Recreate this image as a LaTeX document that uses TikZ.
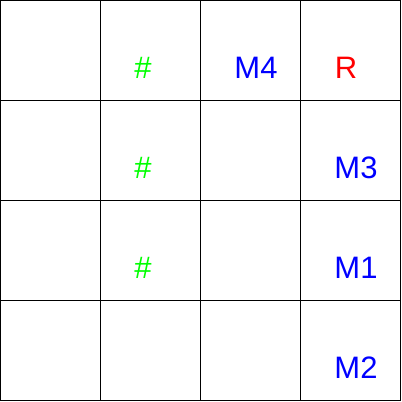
\documentclass[tikz,border=0pt]{standalone}
\usepackage{fontspec}
\setmainfont{Liberation Sans}
\definecolor{hashgreen}{RGB}{0,255,0}
\definecolor{mblue}{RGB}{0,0,255}
\definecolor{rred}{RGB}{255,0,0}
\begin{document}
\begin{tikzpicture}[x=1bp,y=-1bp,
  gridline/.style={draw=black,line width=1bp},
  lbl/.style={anchor=base,inner sep=0pt,font=\fontsize{31bp}{36bp}\selectfont}]
\useasboundingbox (0,0) rectangle (402,402);
\foreach \i in {0,1,2,3}{
  \foreach \j in {0,1,2,3}{
    \draw[gridline] (0.5+100*\i,0.5+100*\j) rectangle (100.5+100*\i,100.5+100*\j);
  }
}
\node[lbl,text=hashgreen] (h1) at (143,78.5) {\#};
\node[lbl,text=hashgreen] (h2) at (143,178.5) {\#};
\node[lbl,text=hashgreen] (h3) at (143,278.5) {\#};
\node[lbl,text=mblue] (m4) at (256,78.5) {M4};
\node[lbl,text=rred] (r) at (346,78.5) {R};
\node[lbl,text=mblue] (m3) at (356,178.5) {M3};
\node[lbl,text=mblue] (m1) at (356,278.5) {M1};
\node[lbl,text=mblue] (m2) at (356,378.5) {M2};
\end{tikzpicture}
\end{document}
